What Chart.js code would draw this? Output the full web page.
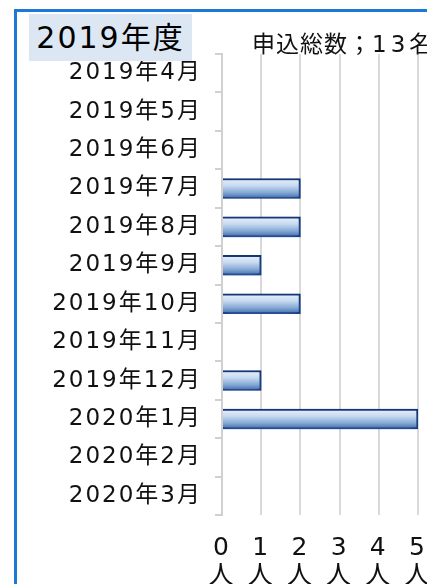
<!DOCTYPE html>
<html lang="ja">
<head>
<meta charset="utf-8">
<title>2019年度 申込数</title>
<script src="https://cdn.jsdelivr.net/npm/chart.js@4/dist/chart.umd.min.js"></script>
<style>
    html, body { margin: 0; padding: 0; background: #fff; overflow: hidden; }
    #wrap { position: relative; width: 427px; height: 584px; overflow: hidden; }
    #frame {
        position: absolute; left: 14px; top: 9px; width: 600px; height: 800px;
        border: 3px solid #1b7bd4; box-sizing: border-box;
    }
    #title {
        position: absolute; left: 29px; top: 14px; width: 163px; height: 47px;
        background: #dde7f3; color: #000;
        font: 30px "DejaVu Sans", "Noto Sans CJK JP", sans-serif;
        line-height: 47px; text-align: center; letter-spacing: 2px;
    }
    #total {
        position: absolute; left: 252px; top: 31px; white-space: nowrap;
        font: 23px "DejaVu Sans", "Noto Sans CJK JP", sans-serif; color: #111;
        line-height: 26px; letter-spacing: 1px;
    }
    #total .num { letter-spacing: 4px; }
    #chart { position: absolute; left: 0; top: 0; }
</style>
</head>
<body>
<div id="wrap">
    <div id="frame"></div>
    <canvas id="chart" width="427" height="584"></canvas>
    <div id="title">2019年度</div>
    <div id="total">申込総数；<span class="num">13</span>名</div>
</div>
<script>
// months of the fiscal year (top to bottom)
const months = ['2019年4月', '2019年5月', '2019年6月', '2019年7月', '2019年8月', '2019年9月',
                '2019年10月', '2019年11月', '2019年12月', '2020年1月', '2020年2月', '2020年3月'];
// applicants per month
const applicants = [0, 0, 0, 2, 2, 1, 2, 0, 1, 5, 0, 0];
// x axis ticks
const xTicks = [0, 1, 2, 3, 4, 5];
const xUnit = '人';

const FONT = '"DejaVu Sans", "Noto Sans CJK JP", sans-serif';

// wide letter spacing like the original labels
const spacingPlugin = {
    id: 'spacing',
    beforeDraw(chart) {
        chart.ctx.letterSpacing = '2px';
    }
};

// soft blue glow under the bars
const glowPlugin = {
    id: 'glow',
    beforeDatasetsDraw(chart) {
        const ctx = chart.ctx;
        ctx.save();
        ctx.shadowColor = 'rgba(80, 130, 205, 0.6)';
        ctx.shadowBlur = 10;
        ctx.shadowOffsetY = 3;
    },
    afterDatasetsDraw(chart) {
        chart.ctx.restore();
    }
};

function barGradient(context) {
    const chart = context.chart;
    const yScale = chart.scales.y;
    if (!yScale || context.dataIndex == null) return '#9dbce0';
    const c = yScale.getPixelForValue(context.dataIndex);
    if (!isFinite(c)) return '#9dbce0';
    const g = chart.ctx.createLinearGradient(0, c - 10, 0, c + 10);
    g.addColorStop(0, '#e8f0fa');
    g.addColorStop(0.35, '#c8dbf0');
    g.addColorStop(0.7, '#86a9d6');
    g.addColorStop(1, '#3f6ca9');
    return g;
}

new Chart(document.getElementById('chart'), {
    type: 'bar',
    data: {
        labels: months,
        datasets: [{
            data: applicants,
            backgroundColor: barGradient,
            borderColor: '#0d2d6e',
            borderWidth: 2,
            barThickness: 20
        }]
    },
    options: {
        indexAxis: 'y',
        responsive: false,
        animation: false,
        events: [],
        layout: { padding: { left: 0, right: 9, top: 54, bottom: 0 } },
        plugins: {
            legend: { display: false },
            tooltip: { enabled: false }
        },
        scales: {
            x: {
                min: xTicks[0],
                max: xTicks[xTicks.length - 1],
                afterBuildTicks: (scale) => { scale.ticks = xTicks.map(v => ({ value: v })); },
                afterFit: (scale) => {
                    scale.height = 69;
                    scale.paddingLeft = 0;
                    scale.paddingRight = 0;
                },
                grid: { color: '#d9d9d9', lineWidth: 2, drawTicks: false },
                border: { display: false },
                ticks: {
                    padding: 20,
                    color: '#111',
                    font: { family: FONT, size: 25, lineHeight: 1.1 },
                    callback: (v) => [String(v), xUnit]
                }
            },
            y: {
                afterFit: (scale) => {
                    scale.width = 222;
                    scale.paddingTop = 0;
                    scale.paddingBottom = 0;
                },
                grid: { offset: true, drawOnChartArea: false, tickLength: 7, color: '#d0d0d0', lineWidth: 2 },
                border: { color: '#d0d0d0', width: 2 },
                ticks: {
                    padding: 13,
                    color: '#111',
                    font: { family: FONT, size: 23 }
                }
            }
        }
    },
    plugins: [spacingPlugin, glowPlugin]
});
</script>
</body>
</html>
